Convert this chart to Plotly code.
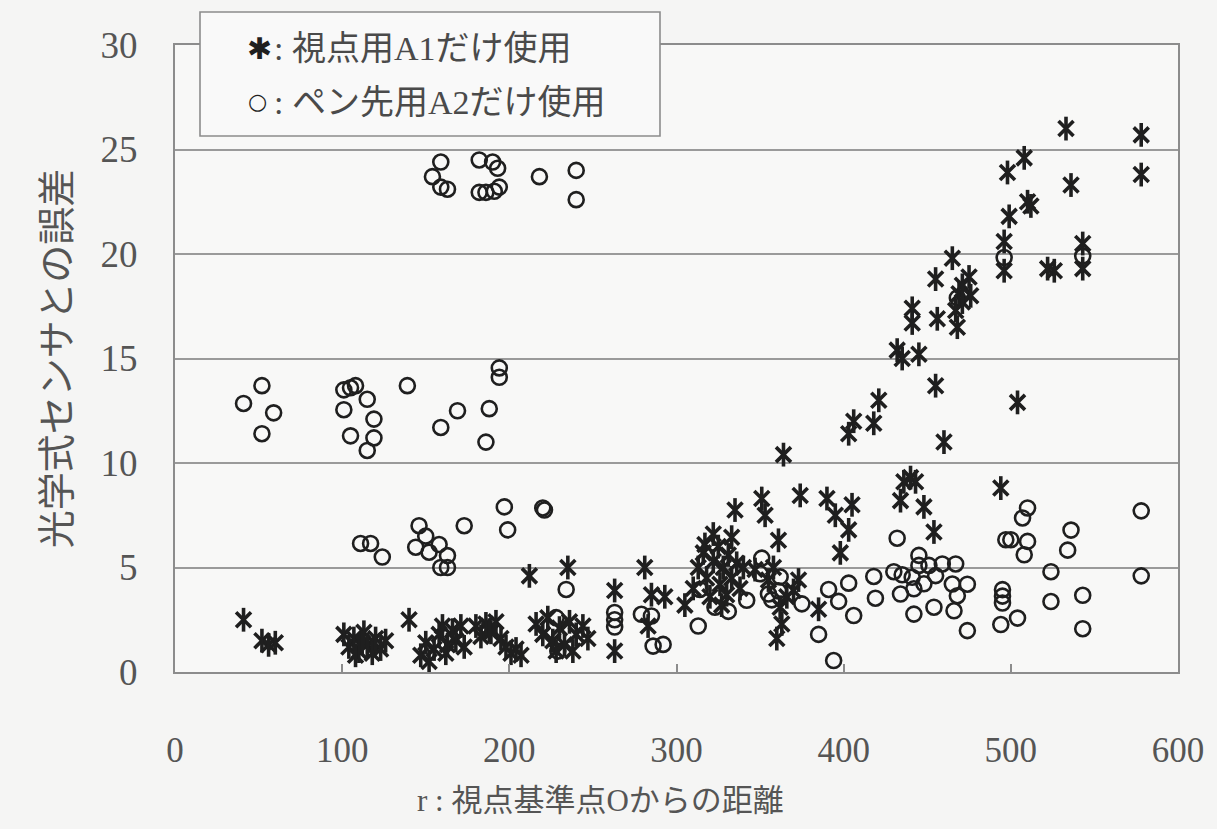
import plotly.graph_objects as go

# 視点用A1だけ使用 (asterisk markers): distance r and error
star_r = [41, 52, 56, 60,
          101, 104, 107, 110, 113, 115, 118, 120, 123, 126, 108, 112,
          140,
          147, 150, 152, 155, 158, 160, 163, 166, 168, 171, 173, 162,
          180, 183, 186, 189, 192, 195, 198, 201, 204, 207, 188,
          216, 220, 223, 226, 230, 233, 236, 240, 244, 247, 228, 238,
          212, 235, 263, 263, 281, 285, 293, 283, 305, 317,
          310, 313, 316, 318, 320, 322, 325, 326, 328, 330, 331, 333, 336, 338, 322, 327,
          333, 335, 340, 347, 351, 353, 361, 374, 390, 395, 405, 403, 398,
          355, 358, 362, 363, 360, 366, 370, 373, 385, 364,
          403, 406, 418, 421, 455, 460, 504,
          436, 440, 443, 434, 448, 454, 494,
          533, 578, 578, 508, 498, 536, 510, 512, 499, 496, 496, 522, 526, 543, 543,
          465, 455, 475, 471, 469, 476, 471, 467, 468, 441, 441, 456, 432, 445, 435]
star_err = [2.5, 1.5, 1.3, 1.4,
            1.8, 1.2, 1.6, 1.0, 1.9, 1.3, 0.9, 1.6, 1.1, 1.5, 0.8, 1.4,
            2.5,
            0.8, 1.4, 0.5, 1.1, 1.8, 2.2, 1.3, 2.0, 1.5, 2.2, 1.2, 0.9,
            2.2, 1.7, 2.3, 1.9, 2.4, 1.6, 1.2, 0.9, 1.1, 0.8, 2.0,
            2.3, 1.8, 2.6, 1.5, 2.1, 1.3, 2.4, 1.8, 2.2, 1.6, 1.0, 1.0,
            4.6, 5.0, 3.9, 1.0, 5.0, 3.7, 3.6, 2.2, 3.2, 6.1,
            4.0, 5.0, 5.7, 4.5, 3.6, 5.3, 6.0, 4.2, 5.0, 3.7, 5.6, 4.5, 5.2, 4.0, 6.6, 3.2,
            6.45, 7.75, 5.0, 4.9, 8.3, 7.5, 6.3, 8.45, 8.3, 7.5, 8.0, 6.8, 5.7,
            4.4, 5.0, 3.1, 2.3, 1.6, 3.6, 3.9, 4.4, 3.0, 10.4,
            11.4, 12.0, 11.9, 13.0, 13.7, 11.0, 12.9,
            9.1, 9.3, 9.1, 8.2, 7.9, 6.7, 8.8,
            26.0, 25.7, 23.8, 24.6, 23.9, 23.3, 22.5, 22.3, 21.8, 20.6, 19.2, 19.3, 19.2, 20.5, 19.3,
            19.8, 18.8, 18.9, 18.5, 18.1, 18.0, 17.7, 17.3, 16.5, 17.4, 16.7, 16.9, 15.4, 15.2, 15.0]

# ペン先用A2だけ使用 (circle markers): distance r and error
circ_r = [159, 154, 159, 163, 182, 190, 193, 182, 186, 191, 194, 218, 240, 240,
          52, 41, 59, 52, 101, 108, 105, 115, 101, 119, 105, 119, 115, 139, 159, 169, 188, 194, 194, 186,
          197, 220, 221, 199, 173, 146, 150, 158, 144, 152, 163, 159, 163, 111, 117, 124, 234, 228, 229,
          263, 263, 263, 279, 285, 286, 292, 314, 313, 342, 355, 361, 385, 394, 391, 397, 403, 406,
          418, 419, 323, 331, 350, 351, 362, 357, 375,
          432, 430, 435, 445, 445, 441, 434, 442, 448, 455, 459, 467, 465, 474, 468, 442, 454, 466, 474, 451,
          510, 507, 497, 500, 510, 508, 536, 534, 578, 578, 524, 524, 543, 543, 495, 495, 495, 494, 504,
          496, 543, 468]
circ_err = [24.4, 23.7, 23.2, 23.1, 24.5, 24.4, 24.1, 22.95, 22.95, 23.0, 23.2, 23.7, 24.0, 22.6,
            13.7, 12.85, 12.4, 11.4, 13.5, 13.7, 13.6, 13.05, 12.55, 12.1, 11.3, 11.2, 10.6, 13.7, 11.7, 12.5, 12.6, 14.55, 14.1, 11.0,
            7.9, 7.85, 7.75, 6.8, 7.0, 7.0, 6.5, 6.1, 5.97, 5.73, 5.57, 5.0, 5.0, 6.15, 6.15, 5.5, 3.95, 2.6, 1.0,
            2.85, 2.5, 2.15, 2.76, 2.68, 1.24, 1.32, 3.95, 2.2, 3.43, 3.73, 3.88, 1.8, 0.55, 3.95, 3.38, 4.25, 2.7,
            4.57, 3.53, 3.1, 2.9, 4.7, 5.45, 4.55, 3.45, 3.26,
            6.4, 4.8, 4.65, 5.58, 5.1, 4.53, 3.73, 3.98, 4.22, 4.61, 5.17, 5.17, 4.21, 4.2, 3.65, 2.77, 3.1, 2.93, 1.98, 5.1,
            7.85, 7.37, 6.33, 6.33, 6.25, 5.61, 6.79, 5.83, 7.71, 4.6, 4.8, 3.37, 3.67, 2.07, 3.94, 3.63, 3.3, 2.27, 2.58,
            19.83, 19.9, 17.9]

x_ticks = [0, 100, 200, 300, 400, 500, 600]
y_ticks = [0, 5, 10, 15, 20, 25, 30]

x_title = "r : 視点基準点Oからの距離"
y_title = "光学式センサとの誤差"
legend_a = ": 視点用A1だけ使用"
legend_b = ": ペン先用A2だけ使用"

ink = "#1f1f1f"
text_col = "#555555"
serif = "Liberation Serif, Noto Sans CJK JP, serif"

fig = go.Figure()

# circles
fig.add_trace(go.Scatter(
    x=circ_r, y=circ_err, mode="markers", showlegend=False,
    marker=dict(symbol="circle-open", size=15, color=ink, line=dict(width=2.6, color=ink)),
))
# six-armed asterisk drawn as an X plus a vertical bar
fig.add_trace(go.Scatter(
    x=star_r, y=star_err, mode="markers", showlegend=False,
    marker=dict(symbol="x-thin-open", size=15, color=ink, line=dict(width=3.6, color=ink)),
))
fig.add_trace(go.Scatter(
    x=star_r, y=star_err, mode="markers", showlegend=False,
    marker=dict(symbol="line-ns-open", size=17, color=ink, line=dict(width=3.6, color=ink)),
))

L, R, T, B = 175, 39, 45, 157
W, H = 1217, 829
pw, ph = W - L - R, H - T - B


def px(xp):
    return (xp - L) / pw


def py(yp):
    return (H - B - yp) / ph


# legend box
fig.add_shape(type="rect", xref="paper", yref="paper",
              x0=px(200), x1=px(660), y0=py(136), y1=py(12),
              line=dict(color="#8c8c8c", width=1.6), fillcolor="#f9f9f9", layer="above")
fig.add_annotation(xref="paper", yref="paper", x=px(245), y=py(48), xanchor="left", yanchor="middle",
                   text="✱", showarrow=False, font=dict(family="DejaVu Sans", size=30, color=ink))
fig.add_annotation(xref="paper", yref="paper", x=px(272), y=py(48), xanchor="left", yanchor="middle",
                   text=legend_a, showarrow=False, font=dict(family=serif, size=34, color="#4a4a4a"))
fig.add_annotation(xref="paper", yref="paper", x=px(246), y=py(101), xanchor="left", yanchor="middle",
                   text="○", showarrow=False, font=dict(family="DejaVu Sans", size=22, color=ink))
fig.add_annotation(xref="paper", yref="paper", x=px(272), y=py(102), xanchor="left", yanchor="middle",
                   text=legend_b, showarrow=False, font=dict(family=serif, size=34, color="#4a4a4a"))

# x-axis title
fig.add_annotation(xref="paper", yref="paper", x=px(600), y=py(800), xanchor="center", yanchor="middle",
                   text=x_title, showarrow=False, font=dict(family=serif, size=31, color=text_col))

fig.update_layout(
    width=W, height=H,
    margin=dict(l=L, r=R, t=T, b=B, pad=0),
    paper_bgcolor="#f5f5f4", plot_bgcolor="#f8f8f7",
    font=dict(family=serif, color=text_col),
)
fig.update_xaxes(
    range=[0, 600], tickvals=x_ticks, ticktext=[str(v) for v in x_ticks],
    showgrid=False, zeroline=False,
    showline=True, linecolor="#8c8c8c", linewidth=2, mirror=True,
    ticks="inside", ticklen=8, tickcolor="#8c8c8c", tickwidth=1.5,
    ticklabelstandoff=46,
    tickfont=dict(family=serif, size=35, color=text_col),
)
fig.update_yaxes(
    range=[0, 30], tickvals=y_ticks, ticktext=[str(v) for v in y_ticks],
    showgrid=True, gridcolor="#9a9a9a", gridwidth=1.6, zeroline=False,
    showline=True, linecolor="#8c8c8c", linewidth=2, mirror=True,
    ticks="", ticklabelstandoff=28,
    tickfont=dict(family=serif, size=37, color=text_col),
    title=dict(text=y_title, font=dict(family=serif, size=38, color=text_col), standoff=18),
)

fig.write_html("out.html")
